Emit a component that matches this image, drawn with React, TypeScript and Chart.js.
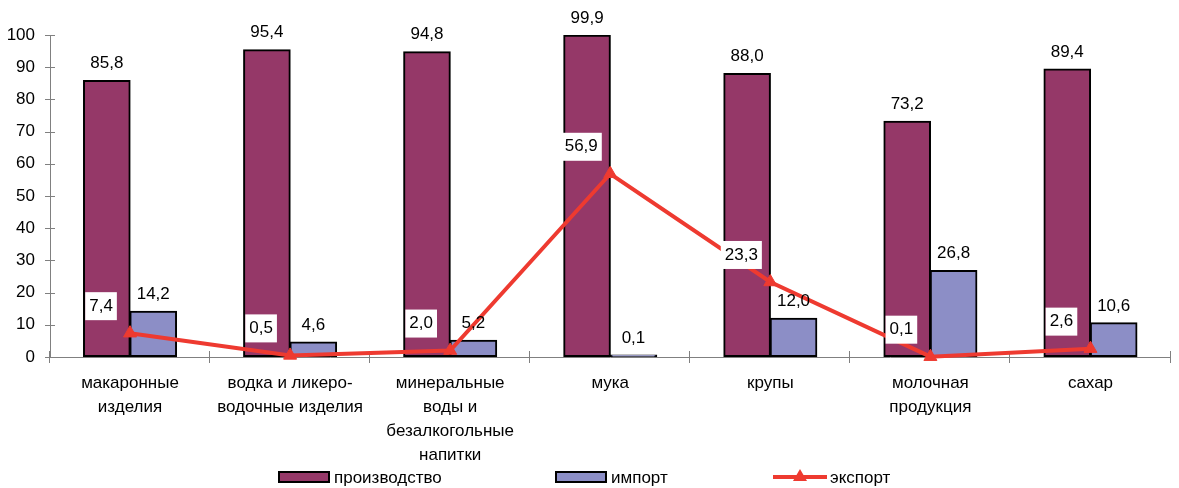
import React, { useEffect, useRef } from "react";
import { Chart, registerables } from "chart.js";

Chart.register(...registerables);

const categories: (string | string[])[] = [
  ["макаронные", "изделия"],
  ["водка и ликеро-", "водочные изделия"],
  ["минеральные", "воды и", "безалкогольные", "напитки"],
  "мука",
  "крупы",
  ["молочная", "продукция"],
  "сахар",
];
const production = [85.8, 95.4, 94.8, 99.9, 88.0, 73.2, 89.4];
const imports = [14.2, 4.6, 5.2, 0.1, 12.0, 26.8, 10.6];
const exportsData = [7.4, 0.5, 2.0, 56.9, 23.3, 0.1, 2.6];
const seriesNames = ["производство", "импорт", "экспорт"];
const yMin = 0;
const yMax = 100;
const yStep = 10;

const FONT = "'Liberation Sans', Arial, sans-serif";
const FS = 17;
const PROD_COLOR = "#953868";
const IMP_COLOR = "#8C8EC6";
const EXP_COLOR = "#EE3A30";
const AXIS_COLOR = "#808080";

const fmt = (v: number) => v.toFixed(1).replace(".", ",");

const ticksPlugin = {
  id: "crossTicks",
  beforeDatasetsDraw(chart: any) {
    const ctx = chart.ctx;
    const y = chart.scales.y;
    const x = chart.scales.x;
    ctx.save();
    ctx.strokeStyle = AXIS_COLOR;
    ctx.lineWidth = 1;
    y.ticks.forEach((t: any) => {
      const py = Math.round(y.getPixelForValue(t.value)) + 0.5;
      ctx.beginPath();
      ctx.moveTo(x.left - 5, py);
      ctx.lineTo(x.left + 5, py);
      ctx.stroke();
    });
    const n = categories.length;
    for (let i = 0; i <= n; i++) {
      const px = Math.round(x.left + (i * x.width) / n) - 0.5;
      ctx.beginPath();
      ctx.moveTo(px, y.bottom - 6);
      ctx.lineTo(px, y.bottom + 6);
      ctx.stroke();
    }
    ctx.restore();
  },
};

const labelsPlugin = {
  id: "valueLabels",
  afterDatasetsDraw(chart: any) {
    const ctx = chart.ctx;
    ctx.save();
    ctx.font = `${FS}px ${FONT}`;
    ctx.textAlign = "center";
    ctx.textBaseline = "middle";
    ctx.fillStyle = "#000";
    [0, 1].forEach((di) => {
      const meta = chart.getDatasetMeta(di);
      const data = chart.data.datasets[di].data as number[];
      meta.data.forEach((el: any, i: number) => {
        ctx.fillText(fmt(data[i]), el.x, el.y - 17);
      });
    });
    const meta = chart.getDatasetMeta(2);
    const data = chart.data.datasets[2].data as number[];
    meta.data.forEach((el: any, i: number) => {
      const txt = fmt(data[i]);
      const cx = el.x - 29;
      const cy = el.y - 27;
      const w = ctx.measureText(txt).width + 8;
      const h = 28;
      ctx.fillStyle = "#fff";
      ctx.fillRect(cx - w / 2, cy - h / 2, w, h);
      ctx.fillStyle = "#000";
      ctx.fillText(txt, cx, cy);
    });
    ctx.restore();
  },
};

const legendPlugin = {
  id: "customLegend",
  afterDraw(chart: any) {
    const ctx = chart.ctx;
    const cy = 477;
    ctx.save();
    ctx.font = `${FS}px ${FONT}`;
    ctx.textAlign = "left";
    ctx.textBaseline = "middle";
    const box = (x: number, color: string) => {
      ctx.fillStyle = color;
      ctx.fillRect(x, cy - 5, 50, 10);
      ctx.strokeStyle = "#000";
      ctx.lineWidth = 2;
      ctx.strokeRect(x, cy - 5, 50, 10);
    };
    box(279, PROD_COLOR);
    ctx.fillStyle = "#000";
    ctx.fillText(seriesNames[0], 334, cy + 1);
    box(556, IMP_COLOR);
    ctx.fillStyle = "#000";
    ctx.fillText(seriesNames[1], 611, cy + 1);
    ctx.strokeStyle = EXP_COLOR;
    ctx.lineWidth = 4;
    ctx.beginPath();
    ctx.moveTo(773, cy);
    ctx.lineTo(827, cy);
    ctx.stroke();
    ctx.fillStyle = EXP_COLOR;
    ctx.beginPath();
    ctx.moveTo(800, cy - 8);
    ctx.lineTo(807, cy + 4);
    ctx.lineTo(793, cy + 4);
    ctx.closePath();
    ctx.fill();
    ctx.fillStyle = "#000";
    ctx.fillText(seriesNames[2], 830, cy + 1);
    ctx.restore();
  },
};

export default function App() {
  const ref = useRef<HTMLCanvasElement | null>(null);
  useEffect(() => {
    document.body.style.margin = "0";
    if (!ref.current) return;
    const chart = new Chart(ref.current, {
      type: "bar",
      data: {
        labels: categories as any,
        datasets: [
          {
            type: "bar",
            label: seriesNames[0],
            data: production,
            backgroundColor: PROD_COLOR,
            borderColor: "#000",
            borderWidth: 2,
            borderSkipped: false,
            inflateAmount: 0.6,
            categoryPercentage: 0.58,
            barPercentage: 1,
            order: 2,
          } as any,
          {
            type: "bar",
            label: seriesNames[1],
            data: imports,
            backgroundColor: IMP_COLOR,
            borderColor: "#000",
            borderWidth: 2,
            borderSkipped: false,
            inflateAmount: 0.6,
            minBarLength: 2,
            categoryPercentage: 0.58,
            barPercentage: 1,
            order: 2,
          } as any,
          {
            type: "line",
            label: seriesNames[2],
            data: exportsData,
            borderColor: EXP_COLOR,
            backgroundColor: EXP_COLOR,
            borderWidth: 4,
            pointStyle: "triangle",
            pointRadius: 7.5,
            pointBackgroundColor: EXP_COLOR,
            pointBorderColor: EXP_COLOR,
            pointBorderWidth: 1,
            tension: 0,
            clip: false as any,
            order: 0,
          } as any,
        ],
      },
      options: {
        responsive: false,
        animation: false,
        layout: { padding: { top: 35, right: 1, left: 0, bottom: 0 } },
        plugins: {
          legend: { display: false },
          tooltip: { enabled: false },
        },
        scales: {
          x: {
            grid: { display: true, drawOnChartArea: false, drawTicks: false, color: AXIS_COLOR },
            border: { display: true, color: AXIS_COLOR, width: 1 },
            ticks: {
              color: "#000",
              font: { family: FONT, size: FS, lineHeight: 1.41 },
              padding: 14,
              maxRotation: 0,
              autoSkip: false,
            },
            afterFit: (s: any) => {
              s.height = 131;
            },
          },
          y: {
            min: yMin,
            max: yMax,
            grid: { display: true, drawOnChartArea: false, drawTicks: false, color: AXIS_COLOR },
            border: { display: true, color: AXIS_COLOR, width: 1 },
            ticks: {
              stepSize: yStep,
              color: "#000",
              font: { family: FONT, size: FS },
              padding: 15,
            },
            afterFit: (s: any) => {
              s.width = 50;
            },
          },
        },
      },
      plugins: [ticksPlugin, labelsPlugin, legendPlugin],
    });
    return () => chart.destroy();
  }, []);
  return (
    <div style={{ width: 1179, height: 488 }}>
      <canvas ref={ref} width={1179} height={488} style={{ display: "block" }} />
    </div>
  );
}
